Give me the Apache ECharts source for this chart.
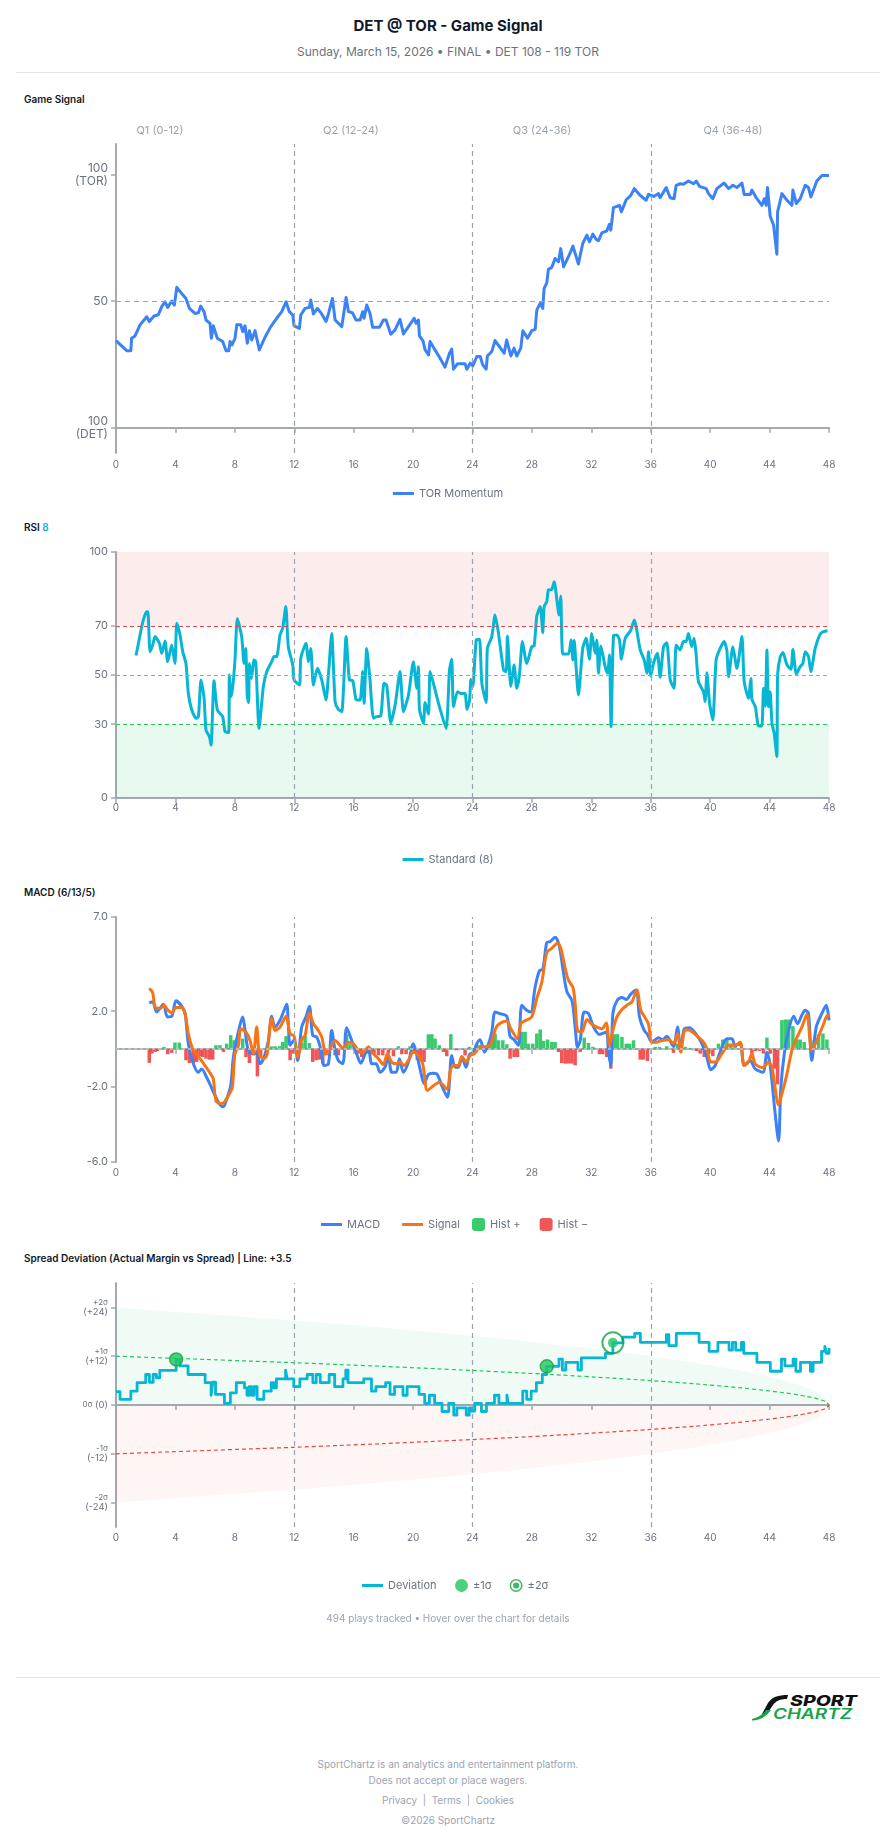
<!DOCTYPE html>
<html>
<head>
<meta charset="utf-8">
<script src="https://cdn.jsdelivr.net/npm/echarts@6/dist/echarts.min.js"></script>
<style>
html,body{margin:0;padding:0;background:#fff;}
body{width:896px;height:1845px;position:relative;overflow:hidden;font-family:Inter,"Noto Sans",sans-serif;}
.abs{position:absolute;}
.title{top:16px;left:0;width:896px;text-align:center;font-size:15px;line-height:20px;font-weight:700;color:#111827;}
.sub{top:44px;left:0;width:896px;text-align:center;font-size:12px;line-height:16px;color:#6b7280;}
.rule{left:16px;width:864px;height:1px;background:#e2e4e8;}
.sec{left:24px;font-size:10px;line-height:14px;font-weight:600;color:#111827;}
.note{left:0;width:896px;text-align:center;font-size:10px;line-height:14px;color:#9ca3af;}
.chart{left:0;width:896px;}
</style>
</head>
<body>
<div class="abs title">DET @ TOR - Game Signal</div>
<div class="abs sub">Sunday, March 15, 2026 • FINAL • DET 108 - 119 TOR</div>
<div class="abs rule" style="top:72px"></div>

<div class="abs sec" style="top:92px">Game Signal</div>
<div id="c1" class="abs chart" style="top:110px;height:400px"></div>

<div class="abs sec" style="top:520px">RSI <span style="color:#06b6d4">8</span></div>
<div id="c2" class="abs chart" style="top:515px;height:360px"></div>

<div class="abs sec" style="top:885px">MACD (6/13/5)</div>
<div id="c3" class="abs chart" style="top:880px;height:360px"></div>

<div class="abs sec" style="top:1251px">Spread Deviation (Actual Margin vs Spread) | Line: +3.5</div>
<div id="c4" class="abs chart" style="top:1245px;height:390px"></div>
<div class="abs note" style="top:1611px">494 plays tracked • Hover over the chart for details</div>

<div class="abs rule" style="top:1677px"></div>
<svg class="abs" style="left:750px;top:1693px" width="116" height="30" viewBox="0 0 116 30">
  <path d="M38 2 L 37 6 C 30 6, 26 8, 23 12 L 17 21 L 12 21 L 18 10 C 22 4, 28 2, 38 2 Z" fill="#111"/>
  <path d="M2 26 C 8 25, 13 21, 16 17 L 21 17 C 16 24, 10 27, 2 27.5 Z" fill="#16a34a"/>
  <text x="40" y="13" font-family="Inter" font-style="italic" font-weight="800" font-size="15" fill="#111" textLength="67" lengthAdjust="spacingAndGlyphs">SPORT</text>
  <text x="23" y="25.5" font-family="Inter" font-style="italic" font-weight="600" font-size="14.5" fill="#16a34a" textLength="79" lengthAdjust="spacingAndGlyphs">CHARTZ</text>
</svg>
<div class="abs note" style="top:1757px">SportChartz is an analytics and entertainment platform.</div>
<div class="abs note" style="top:1773px">Does not accept or place wagers.</div>
<div class="abs note" style="top:1793px">Privacy&nbsp;&nbsp;|&nbsp;&nbsp;Terms&nbsp;&nbsp;|&nbsp;&nbsp;Cookies</div>
<div class="abs note" style="top:1813px">©2026 SportChartz</div>

<script>
// ---------------- DATA ----------------
const quarterLines = [12, 24, 36];
const quarterLabels = ['Q1 (0-12)', 'Q2 (12-24)', 'Q3 (24-36)', 'Q4 (36-48)'];

const signalTickValues = [0, 50, 100];
const signalTickLabels = ['100\n(DET)', '50', '100\n(TOR)'];

const momentum = [[0,34.4],[0.72,30.4],[1.0,30.4],[1.05,35.3],[1.28,36.2],[1.62,40.6],[2.07,43.8],[2.24,41.9],[2.56,44.1],[2.85,44.6],[3.08,47.8],[3.3,49.7],[3.48,47.5],[3.75,50],[3.93,48.4],[4.09,55.4],[4.42,53],[4.71,51],[4.94,47.1],[5.32,45.1],[5.55,45.4],[5.7,48],[5.93,45.8],[6.06,42.5],[6.33,41.2],[6.42,35.3],[6.55,40.2],[6.82,35.3],[7.18,34],[7.41,30.4],[7.59,30.4],[7.68,34],[7.81,32.7],[8.01,35.3],[8.13,40.6],[8.4,40.6],[8.53,37.9],[8.69,40.2],[8.84,33.3],[8.98,38.3],[9.14,34.6],[9.36,38.3],[9.65,30.7],[10.03,35.7],[10.42,39.9],[10.77,42.8],[11.16,45.8],[11.45,49.7],[11.67,45.8],[11.9,44.5],[11.99,40.2],[12.35,39.2],[12.44,44.5],[12.73,47.1],[13.02,47.5],[13.11,50.4],[13.29,44.9],[13.56,47.1],[13.85,44.9],[14.14,41.9],[14.3,44.9],[14.57,51],[14.75,42.5],[15.2,39.9],[15.49,51.4],[15.65,45.8],[15.91,45.4],[16.16,42.5],[16.43,42.5],[16.61,45.8],[16.7,43.2],[16.88,48.4],[17.1,45.1],[17.28,39.6],[17.73,39.6],[18.0,42.5],[18.18,42.5],[18.5,36.9],[18.79,38.6],[19.12,42.8],[19.35,37],[19.69,39.9],[20.07,43.2],[20.21,41.2],[20.36,42.5],[20.43,36.2],[20.66,34.4],[20.81,30.7],[21.04,28.7],[21.14,34],[21.48,30.7],[21.82,27.4],[22.15,23.9],[22.45,29.4],[22.6,31],[22.72,23.1],[22.99,25.2],[23.5,25.2],[23.62,23.1],[23.84,25.5],[24.02,24.4],[24.29,28.1],[24.52,28.1],[24.69,24.8],[24.92,23.1],[25.0,28.3],[25.3,30.1],[25.52,34.4],[25.81,32],[26.13,29.4],[26.3,34.6],[26.58,28.3],[26.8,31.4],[26.98,28.3],[27.25,31.4],[27.39,38.3],[27.7,35.3],[27.99,38.3],[28.22,38.8],[28.33,46.5],[28.56,49.1],[28.73,47.1],[28.82,55],[29.0,57.2],[29.11,62.5],[29.34,63.3],[29.56,66.8],[29.79,65.5],[29.94,70.7],[30.13,63.5],[30.46,67.5],[30.76,71.7],[30.91,68.8],[31.13,64.6],[31.42,72.7],[31.7,76],[31.87,73.4],[32.1,76.4],[32.33,74.3],[32.48,73.8],[32.71,76.9],[33.04,77.7],[33.22,80.3],[33.31,78],[33.49,86.9],[33.9,87.8],[34.02,85.2],[34.35,90],[34.66,91.7],[34.89,94.4],[35.29,91.7],[35.69,89.8],[35.85,92.1],[36.2,91.3],[36.52,92.4],[36.63,90.8],[37.04,94.8],[37.31,90.8],[37.57,90.4],[37.71,95.7],[37.98,96.3],[38.2,96.1],[38.54,97.4],[38.88,96.3],[39.06,97.4],[39.28,95.3],[39.73,94.4],[39.89,92.4],[40.18,90.4],[40.45,94.4],[40.94,96.6],[41.24,94.4],[41.53,95.7],[41.8,94.8],[42.14,96.6],[42.29,92.1],[42.7,92.1],[42.81,93.8],[43.1,90.8],[43.48,87.8],[43.64,90.4],[43.77,87.8],[43.86,94.8],[44.04,83.5],[44.27,79.9],[44.49,68.5],[44.54,85.2],[44.83,92.4],[45.17,89.8],[45.5,87.8],[45.57,93.8],[45.8,88.5],[46.06,90.4],[46.4,95.7],[46.62,94.8],[46.78,91.1],[47.18,97.4],[47.52,99.6],[48,99.6]];

const rsiTickValues = [0, 30, 50, 70, 100];
const rsi = [[1.35,57.9],[1.62,66.3],[1.84,72.4],[2.07,75.7],[2.15,75.7],[2.29,59.5],[2.47,62.2],[2.63,65.6],[2.92,62.9],[3.08,58.8],[3.3,63.8],[3.48,55.4],[3.75,62.2],[3.97,54.7],[4.09,71],[4.31,66.3],[4.49,59.5],[4.71,54.7],[4.87,42.5],[5.1,35.8],[5.39,32.4],[5.55,33.1],[5.72,48],[5.93,40.5],[6.06,27.6],[6.29,24.9],[6.4,21.5],[6.6,47.7],[6.82,35.8],[7.18,33.1],[7.34,27],[7.59,26.6],[7.63,50],[7.74,41.2],[7.86,45.3],[8.01,56.1],[8.17,73],[8.46,65.6],[8.62,54.7],[8.73,60.8],[8.84,41.2],[8.93,38.8],[8.98,54.7],[9.11,48.6],[9.29,56.1],[9.41,55.4],[9.63,28.3],[9.92,45.3],[10.15,51.4],[10.48,55.4],[10.64,57.5],[10.82,57.5],[11.04,66.3],[11.22,69],[11.43,77.8],[11.6,61.5],[11.9,54.1],[11.99,48],[12.35,45.9],[12.44,56.8],[12.79,62.9],[12.95,55.4],[13.11,60.8],[13.29,45.9],[13.56,52.7],[13.85,48],[14.14,39.8],[14.3,50],[14.52,66.9],[14.75,39.2],[14.97,36],[15.2,35.1],[15.49,65.6],[15.71,48],[15.94,47.7],[16.16,40.1],[16.43,39.8],[16.61,51.4],[16.7,38.5],[16.88,60.8],[17.1,48],[17.33,32.4],[17.55,33.1],[17.82,33.3],[18.04,46.6],[18.22,45.9],[18.5,30.6],[18.79,37.8],[19.12,51.4],[19.35,35.1],[19.69,41.9],[20.02,55.4],[20.25,44.6],[20.36,53.4],[20.43,36],[20.7,30.4],[20.81,38.8],[21.04,34.1],[21.14,51.4],[21.37,46.6],[21.71,38.5],[22.22,28.3],[22.45,52],[22.6,56.4],[22.72,37.1],[22.99,43.2],[23.21,42.5],[23.5,42.5],[23.62,36],[23.8,39.6],[23.89,48.2],[24.02,45.3],[24.25,64.2],[24.47,64.5],[24.63,46.6],[24.92,38.8],[25.0,60.8],[25.3,65.6],[25.52,74.4],[25.75,66.9],[26.09,52],[26.27,51.4],[26.35,65.9],[26.58,45.3],[26.8,54.1],[26.98,44.6],[27.16,50],[27.36,63.6],[27.65,54.7],[27.99,61.5],[28.15,61.8],[28.33,74],[28.56,77.8],[28.73,67.2],[28.82,77.8],[29.0,79.8],[29.11,84.6],[29.34,84.8],[29.5,87.9],[29.72,78.5],[29.81,74.4],[29.94,82.1],[30.08,58.5],[30.46,58.5],[30.64,64.2],[30.76,56.1],[30.85,64],[30.98,52.7],[31.13,41.9],[31.42,60.8],[31.65,64.9],[31.87,56.4],[32.03,66.9],[32.26,58.8],[32.37,64.2],[32.48,50.7],[32.64,61.8],[32.93,53.4],[33.09,50.7],[33.22,58.1],[33.33,29],[33.49,65.9],[33.72,66.3],[33.9,64.2],[34.02,56.4],[34.28,64.9],[34.66,68.3],[34.89,72.4],[35.29,60.2],[35.56,56.1],[35.74,50.7],[35.85,59.5],[36.0,49.6],[36.18,54.7],[36.45,58.8],[36.63,49.1],[36.86,61.5],[37.08,63.1],[37.31,48],[37.57,44.6],[37.71,62.2],[37.98,60.2],[38.2,63.6],[38.38,63.6],[38.54,66.9],[38.76,61.5],[38.92,64.9],[39.06,58.1],[39.21,47.3],[39.55,43.2],[39.66,39.2],[39.78,50.9],[39.96,38.5],[40.18,31.7],[40.4,56.1],[40.67,60.8],[40.94,63.6],[41.12,60.2],[41.24,49.3],[41.53,61.5],[41.8,52.7],[42.14,65.6],[42.29,47.3],[42.58,40.5],[42.74,48.6],[42.81,40.1],[43.04,37.1],[43.26,29.3],[43.48,29.3],[43.59,44.6],[43.71,37.4],[43.82,60.2],[43.93,37.1],[44.04,43.2],[44.16,30.4],[44.31,26.3],[44.49,16.8],[44.54,50],[44.72,57.5],[44.9,59.1],[45.17,54.1],[45.44,52.3],[45.57,60.4],[45.8,50.4],[46.06,53.4],[46.24,54.7],[46.4,59.5],[46.62,57.5],[46.78,51.4],[47.07,60.8],[47.41,66.7],[47.63,67.6],[47.9,68]];

const macdTickValues = [-6, -2, 2, 7];
const macd = [[2.24,2.44],[2.47,2.5],[2.74,1.96],[3.19,2.37],[3.46,1.7],[3.75,1.73],[4.04,2.55],[4.42,2.27],[4.65,1.88],[4.87,0.28],[5.21,-0.79],[5.54,-1.24],[5.77,-1.06],[6.1,-1.5],[6.37,-1.95],[6.67,-2.48],[7.0,-2.96],[7.23,-3.07],[7.45,-2.66],[7.72,-1.95],[7.9,-0.44],[8.17,0.67],[8.53,1.7],[8.69,0.98],[8.91,-0.08],[9.25,-0.26],[9.47,-0.22],[9.7,-0.79],[9.97,-0.44],[10.26,0.45],[10.48,1.73],[10.71,1.16],[11.04,1.52],[11.27,1.96],[11.49,2.37],[11.6,1.34],[11.72,0.19],[11.99,0.49],[12.23,-0.61],[12.5,1.16],[12.79,1.7],[13.02,2.27],[13.24,0.72],[13.51,0.63],[13.78,0.01],[14.01,-0.88],[14.3,-0.79],[14.52,0.98],[14.75,-0.08],[14.97,-0.61],[15.26,-0.79],[15.53,1.13],[15.87,0.45],[16.16,-0.17],[16.48,-0.76],[16.77,-0.26],[16.99,0.1],[17.22,-0.79],[17.51,-0.79],[17.78,-1.24],[18.11,-0.97],[18.34,-0.35],[18.56,-1.24],[18.86,-1.24],[19.08,-0.52],[19.35,-1.24],[19.69,-0.7],[20.02,0.28],[20.29,-0.44],[20.52,-1.24],[20.74,-1.83],[21.03,-1.36],[21.32,-1.29],[21.59,-1.32],[21.93,-1.95],[22.31,-2.57],[22.6,-0.35],[22.83,-0.97],[23.05,-0.97],[23.28,-0.44],[23.57,-0.97],[23.79,-0.3],[24.06,-0.17],[24.29,0.28],[24.51,0.49],[24.81,-0.17],[25.08,0.28],[25.3,0.9],[25.52,1.96],[25.81,1.88],[26.31,1.73],[26.53,0.67],[26.8,0.49],[27.09,0.19],[27.32,2.32],[27.65,2.05],[27.92,1.96],[28.22,3.3],[28.51,4.15],[28.73,4.22],[29.0,5.64],[29.24,5.7],[29.56,5.93],[29.84,5.47],[30.13,4.01],[30.36,3.03],[30.7,2.55],[30.91,1.16],[31.07,0.1],[31.25,0.45],[31.52,1.96],[31.81,1.88],[32.15,1.16],[32.55,0.77],[33.0,0.9],[33.15,-0.17],[33.31,-0.88],[33.45,1.88],[33.72,2.55],[34.06,2.73],[34.35,2.62],[34.66,2.91],[35.02,3.12],[35.24,1.7],[35.56,0.98],[35.78,0.77],[36.07,0.36],[36.3,0.49],[36.52,0.59],[36.81,0.49],[37.08,0.67],[37.53,0.13],[37.8,1.16],[38.02,-0.12],[38.25,1.07],[38.6,1.13],[39.06,0.77],[39.44,0.28],[39.78,-0.44],[40.04,-1.11],[40.34,-0.88],[40.67,-0.17],[41.12,0.54],[41.46,0.54],[41.68,0.19],[42.02,0.28],[42.29,-0.88],[42.69,-0.61],[43.03,-1.06],[43.55,-1.24],[43.82,-0.17],[44.04,-0.88],[44.38,-3.47],[44.6,-4.89],[44.76,-2.04],[44.99,-0.26],[45.28,0.98],[45.62,1.73],[45.88,1.34],[46.17,1.79],[46.4,2.05],[46.62,1.88],[46.84,-0.61],[47.14,1.16],[47.52,1.88],[47.81,2.32],[48,1.52]];

const macdSignal = [[2.24,3.21],[2.47,2.98],[2.63,2.23],[2.96,2.14],[3.23,2.32],[3.46,2.09],[3.75,1.91],[4.04,2.2],[4.42,2.2],[4.65,1.88],[4.87,0.81],[5.16,0.01],[5.54,-0.4],[5.99,-0.88],[6.37,-1.32],[6.55,-1.59],[6.73,-2.75],[7.0,-2.89],[7.27,-2.84],[7.63,-2.39],[7.83,-2.04],[8.01,-0.26],[8.24,0.19],[8.4,1.07],[8.75,0.9],[9.02,0.45],[9.25,-0.26],[9.47,1.16],[9.65,-0.26],[9.92,-0.52],[10.15,-0.35],[10.48,1.61],[10.71,0.98],[11.04,1.16],[11.45,1.73],[11.72,0.81],[11.99,0.67],[12.23,-0.44],[12.5,0.49],[12.73,0.72],[13.02,1.91],[13.29,1.34],[13.62,0.98],[13.85,0.63],[14.14,-0.26],[14.41,0.01],[14.75,0.45],[15.08,0.19],[15.31,0.01],[15.65,0.36],[15.98,0.28],[16.32,-0.08],[16.61,-0.17],[16.99,0.1],[17.33,-0.26],[17.67,-0.52],[18.0,-0.83],[18.27,-0.26],[18.56,-0.7],[18.9,-0.79],[19.12,-0.7],[19.39,-0.88],[19.75,-0.52],[20.02,-0.12],[20.36,-0.35],[20.65,-0.79],[20.97,-2.21],[21.37,-1.95],[21.77,-1.77],[22.27,-2.12],[22.54,-1.06],[22.76,-0.88],[23.05,-0.88],[23.28,-0.4],[23.57,-0.7],[23.84,-0.35],[24.11,-0.26],[24.51,0.1],[24.96,0.13],[25.24,0.28],[25.6,1.16],[25.91,1.38],[26.31,1.48],[26.58,1.07],[27.03,0.54],[27.25,1.34],[27.61,1.52],[27.99,1.7],[28.33,2.68],[28.67,3.56],[29.0,5.11],[29.34,5.34],[29.72,5.61],[29.94,5.34],[30.24,4.28],[30.46,3.65],[30.76,3.26],[30.91,2.41],[31.07,0.98],[31.36,0.9],[31.7,1.56],[32.03,1.31],[32.37,1.16],[32.71,1.07],[33.0,1.38],[33.22,0.19],[33.45,0.98],[33.72,1.7],[34.06,2.09],[34.39,2.32],[34.73,2.5],[35.06,3.12],[35.33,2.05],[35.62,1.66],[35.85,1.31],[36.07,0.36],[36.41,0.36],[36.75,0.45],[37.2,0.49],[37.53,0.28],[37.8,0.81],[38.02,-0.17],[38.32,1.02],[38.65,0.98],[39.06,0.72],[39.55,0.36],[39.78,0.01],[40.04,-0.7],[40.34,-0.7],[40.79,-0.26],[41.24,0.19],[41.68,0.19],[42.02,0.36],[42.29,-0.88],[42.58,-0.7],[42.81,-0.26],[43.03,-0.79],[43.55,-1.0],[43.93,-0.7],[44.16,-0.97],[44.38,-2.12],[44.6,-2.96],[44.83,-2.39],[45.17,-1.32],[45.5,-0.08],[45.8,0.54],[46.17,1.16],[46.51,1.84],[46.84,-0.08],[47.18,0.45],[47.63,1.31],[47.9,1.79],[48,1.7]];

const macdHist = [[2.24,-0.74],[2.42,-0.25],[2.63,-0.16],[2.78,-0.11],[3.23,0.11],[3.48,-0.28],[3.75,-0.21],[3.97,0.34],[4.26,0.34],[4.71,-0.6],[4.94,-0.75],[5.21,-0.75],[5.43,-0.69],[5.66,-0.39],[5.84,-0.43],[6.06,-0.52],[6.29,-0.57],[6.51,-0.57],[6.73,0.2],[7.0,0.2],[7.23,-0.16],[7.45,0.28],[7.72,0.73],[7.95,0.46],[8.17,0.55],[8.53,0.55],[8.75,-0.43],[8.98,-0.75],[9.25,-0.34],[9.52,-1.46],[9.74,-0.39],[10.15,-0.25],[10.48,0.14],[10.71,0.14],[11.0,0.14],[11.22,0.37],[11.45,0.68],[11.72,-0.6],[11.94,-0.25],[12.5,0.32],[12.73,0.73],[13.02,0.32],[13.24,-0.69],[13.47,-0.6],[13.69,-0.57],[13.92,-0.78],[14.14,-0.34],[14.75,-0.34],[14.97,-0.34],[15.53,0.78],[15.76,0.25],[16.03,0.2],[16.32,-0.25],[16.54,-0.43],[16.88,-0.25],[17.1,-0.28],[17.37,-0.28],[17.67,-0.34],[17.96,-0.34],[18.34,-0.25],[18.68,-0.39],[19.01,0.14],[19.24,-0.28],[19.53,-0.28],[19.8,0.14],[20.02,-0.25],[20.29,-0.6],[20.52,-0.6],[20.74,-0.69],[21.03,0.78],[21.26,0.78],[21.48,0.55],[21.77,0.2],[22.04,-0.16],[22.27,-0.39],[22.54,0.78],[22.83,-0.07],[23.05,-0.07],[23.5,-0.34],[23.79,0.11],[24.06,0.04],[24.29,0.25],[24.51,0.2],[24.85,0.11],[25.14,0.28],[25.37,0.64],[25.52,0.82],[25.75,0.46],[26.04,0.46],[26.31,0.25],[26.53,-0.52],[26.8,-0.43],[27.03,-0.43],[27.32,0.91],[27.54,0.91],[27.76,0.28],[28.06,0.28],[28.33,0.82],[28.56,1.03],[28.78,0.43],[29.05,0.5],[29.34,0.37],[29.56,0.37],[29.79,-0.16],[30.01,-0.75],[30.24,-0.78],[30.46,-0.78],[30.69,-0.78],[30.91,-0.87],[31.25,-0.16],[31.52,0.6],[31.81,0.32],[32.1,0.11],[32.55,-0.28],[32.77,-0.28],[33.04,-0.43],[33.31,-1.05],[33.54,0.78],[33.76,0.78],[34.06,0.64],[34.35,0.28],[34.57,0.28],[34.84,0.46],[35.29,-0.57],[35.51,-0.57],[35.78,-0.64],[36.3,0.11],[36.59,0.11],[37.08,0.14],[37.53,-0.21],[37.8,0.28],[38.32,0.11],[38.6,0.05],[38.88,-0.07],[39.1,-0.11],[39.33,-0.25],[39.6,-0.43],[39.89,-0.25],[40.18,-0.39],[40.56,0.28],[40.85,0.5],[41.12,0.5],[41.39,0.28],[41.68,0.14],[42.81,-0.25],[43.03,-0.11],[43.32,-0.11],[43.59,-0.25],[43.82,0.6],[44.04,-0.25],[44.33,-1.05],[44.54,-1.88],[44.83,1.53],[45.06,1.56],[45.28,1.56],[45.57,1.21],[45.84,0.5],[46.06,0.5],[46.33,0.37],[47.0,0.46],[47.3,0.78],[47.59,0.82],[47.86,0.5]];

const spreadTickValues = [-24, -12, 0, 12, 24];
const spreadSigmaLabels = ['-2σ', '-1σ', '0σ', '+1σ', '+2σ'];
const spreadPointLabels = ['(-24)', '(-12)', '(0)', '(+12)', '(+24)'];
// deviation: [minute, level from that minute on]
const deviation = [[0,3.3],[0.27,1.4],[1.0,3.4],[1.42,5.5],[2.0,7.5],[2.25,5.6],[2.5,7.5],[2.72,6.7],[2.95,8.5],[4.05,11.2],[4.3,9.6],[4.85,7.5],[6.0,5.5],[6.4,2.4],[6.52,5.6],[6.7,2.6],[7.3,0.4],[7.7,3.0],[8.1,5.5],[8.65,4.2],[8.82,2.4],[8.96,4.5],[9.12,2.4],[9.3,4.5],[9.5,1.4],[9.95,3.4],[10.45,5.5],[10.62,4.2],[10.8,6.4],[11.42,8.6],[11.52,6.4],[11.97,4.5],[12.38,6.4],[12.87,7.5],[13.25,5.5],[13.48,7.5],[13.75,5.5],[14.35,7.5],[14.72,4.5],[15.28,6.4],[15.47,8.6],[15.62,5.5],[16.68,6.4],[17.2,3.4],[17.5,4.5],[18.15,5.5],[18.45,2.6],[18.75,4.5],[19.32,2.4],[19.6,4.5],[20.4,2.6],[20.78,0.4],[21.1,2.4],[21.45,0.4],[21.95,-1.6],[22.4,0.4],[22.74,-2.5],[22.95,-0.7],[23.58,-2.5],[23.78,-0.7],[23.92,-1.5],[24.15,0.4],[24.6,-1.6],[24.94,0.4],[25.48,2.4],[25.78,0.4],[26.32,2.4],[26.4,0.4],[27.38,3.4],[27.65,1.4],[27.95,3.4],[28.3,5.5],[28.7,7.5],[29.0,9.5],[29.82,11.3],[30.05,8.6],[30.28,10.5],[31.1,8.6],[31.33,11.6],[32.95,12.7],[33.45,15.3],[34.12,16.7],[34.92,17.6],[35.3,15.4],[37.05,17.3],[37.22,14.6],[37.72,17.6],[39.25,15.4],[39.93,13.2],[40.52,15.4],[41.27,13.5],[41.5,15.4],[41.72,13.5],[42.1,15.4],[42.26,12.7],[43.15,10.5],[44.05,8.3],[44.8,11.3],[45.03,9.6],[45.58,11.3],[45.77,8.3],[46.08,10.5],[46.75,8.3],[46.93,10.5],[47.5,13.2],[47.72,14.4],[47.83,12.7],[48,14.0]];
const bandMinutes = [0, 3, 6, 9, 12, 15, 18, 21, 24, 27, 30, 33, 36, 39, 42, 44, 45, 46, 46.5, 47, 47.5, 47.8, 48];
const oneSigma = [12.0, 11.6, 11.2, 10.8, 10.4, 9.95, 9.5, 9.0, 8.5, 7.95, 7.35, 6.7, 6.0, 5.2, 4.25, 3.45, 3.0, 2.45, 2.1, 1.75, 1.2, 0.8, 0];
const twoSigma = [24.0, 23.2, 22.4, 21.6, 20.8, 19.9, 19.0, 18.0, 17.0, 15.9, 14.7, 13.4, 12.0, 10.4, 8.5, 6.9, 6.0, 4.9, 4.2, 3.5, 2.4, 1.6, 0];
const oneSigmaHits = [[4.05, 11.2], [29.0, 9.5]];
const twoSigmaHits = [[33.45, 15.3]];

// ---------------- STYLE ----------------
const FONT = 'Inter, "Noto Sans", sans-serif';
const AX = '#a3a8b1';
const LBL = '#6b7280';
const GRID_DASH = '#9ca3af';
const BLUE = '#3b82f6', ORANGE = '#f97316', CYAN = '#06b6d4', GREEN = '#22c55e', RED = '#ef4444';

function xAx(margin) {
  return {
    type: 'value', min: 0, max: 48, interval: 4,
    axisLine: { show: true, lineStyle: { color: AX, width: 2 } },
    axisTick: { show: true, length: 5, lineStyle: { color: AX, width: 1.5 } },
    axisLabel: { color: LBL, fontSize: 10, margin: margin, fontFamily: FONT },
    splitLine: { show: false }
  };
}
function yAx(min, max, ticks, formatter, fs, lh, rich) {
  return {
    type: 'value', min: min, max: max,
    axisLine: { show: true, lineStyle: { color: AX, width: 2 } },
    axisTick: { show: true, length: 5, lineStyle: { color: AX, width: 1.5 }, customValues: ticks },
    axisLabel: { customValues: ticks, formatter: formatter, color: LBL, fontSize: fs, lineHeight: lh, margin: 8, fontFamily: FONT, rich: rich },
    splitLine: { show: false }
  };
}
const dashGray = { color: GRID_DASH, type: [5, 4], width: 1.2 };
function quarterMarks() { return quarterLines.map(q => ({ xAxis: q, lineStyle: dashGray })); }
function markLine(extra) {
  return { silent: true, symbol: ['none', 'none'], label: { show: false }, emphasis: { disabled: true }, lineStyle: dashGray, data: quarterMarks().concat(extra || []) };
}
const legendText = { color: LBL, fontSize: 11, fontFamily: FONT };
function lineLegend(names, top, left) {
  return { data: names.map(n => ({ name: n, icon: 'rect' })), top: top, left: left, itemWidth: 21, itemHeight: 3, itemGap: 22, textStyle: legendText };
}

// ---------------- CHART 1 ----------------
const c1 = echarts.init(document.getElementById('c1'));
const qx = [160, 351, 542, 733];
c1.setOption({
  animation: false, textStyle: { fontFamily: FONT },
  grid: { left: 116, right: 67, top: 34, bottom: 57 },
  xAxis: xAx(7),
  yAxis: yAx(-10, 112, signalTickValues, v => signalTickLabels[signalTickValues.indexOf(v)], 12, 13),
  legend: lineLegend(['TOR Momentum'], 373, 'center'),
  graphic: quarterLabels.map((t, i) => ({
    type: 'text', x: qx[i], y: 21,
    style: { text: t, fill: '#9ca3af', font: '11px ' + FONT, align: 'center', verticalAlign: 'middle', textAlign: 'center', textVerticalAlign: 'middle' }
  })),
  series: [{
    name: 'TOR Momentum', type: 'line', data: momentum, symbol: 'none',
    lineStyle: { color: BLUE, width: 3, join: 'round' }, itemStyle: { color: BLUE },
    markLine: markLine([{ yAxis: 50, lineStyle: dashGray }])
  }]
});

// ---------------- CHART 2 (RSI) ----------------
const c2 = echarts.init(document.getElementById('c2'));
c2.setOption({
  animation: false, textStyle: { fontFamily: FONT },
  grid: { left: 116, right: 67, top: 37, bottom: 77 },
  xAxis: xAx(5),
  yAxis: yAx(0, 100, rsiTickValues, v => String(v), 11, 12),
  legend: lineLegend(['Standard (8)'], 334, 'center'),
  series: [{
    name: 'Standard (8)', type: 'line', data: rsi, symbol: 'none', smooth: 0.2,
    lineStyle: { color: CYAN, width: 3, join: 'round' }, itemStyle: { color: CYAN },
    markArea: {
      silent: true,
      data: [
        [{ yAxis: 70, itemStyle: { color: 'rgba(239,68,68,0.10)' } }, { yAxis: 100 }],
        [{ yAxis: 0, itemStyle: { color: 'rgba(34,197,94,0.10)' } }, { yAxis: 30 }]
      ]
    },
    markLine: markLine([
      { yAxis: 70, lineStyle: { color: RED, type: [4, 3], width: 1.2 } },
      { yAxis: 50, lineStyle: { color: GRID_DASH, type: [4, 3], width: 1.2 } },
      { yAxis: 30, lineStyle: { color: GREEN, type: [4, 3], width: 1.2 } }
    ])
  }]
});

// ---------------- CHART 3 (MACD) ----------------
const c3 = echarts.init(document.getElementById('c3'));
c3.setOption({
  animation: false, textStyle: { fontFamily: FONT },
  grid: { left: 116, right: 67, top: 37, bottom: 78 },
  xAxis: xAx(6),
  yAxis: yAx(-6, 7, macdTickValues, v => v.toFixed(1), 11, 12),
  legend: [
    lineLegend(['MACD', 'Signal'], 334, 316),
    { data: [{ name: 'Hist +', icon: 'roundRect' }, { name: 'Hist −', icon: 'roundRect' }], top: 333, left: 467, itemWidth: 13, itemHeight: 13, itemGap: 19, textStyle: legendText }
  ],
  series: [
    {
      name: 'Hist +', type: 'bar', barWidth: 3.5, barGap: '-100%',
      data: macdHist.filter(d => d[1] >= 0), itemStyle: { color: GREEN, opacity: 0.9 }
    },
    {
      name: 'Hist −', type: 'bar', barWidth: 3.5, barGap: '-100%',
      data: macdHist.filter(d => d[1] < 0), itemStyle: { color: RED, opacity: 0.9 }
    },
    {
      name: 'MACD', type: 'line', data: macd, symbol: 'none', smooth: 0.3, z: 3,
      lineStyle: { color: BLUE, width: 3, join: 'round' }, itemStyle: { color: BLUE },
      markLine: markLine([{ yAxis: 0, lineStyle: { color: '#c4c8cf', type: [3, 3], width: 1.5 } }])
    },
    {
      name: 'Signal', type: 'line', data: macdSignal, symbol: 'none', smooth: 0.3, z: 4,
      lineStyle: { color: ORANGE, width: 3, join: 'round' }, itemStyle: { color: ORANGE }
    }
  ]
});

// ---------------- CHART 4 (Spread deviation) ----------------
const c4 = echarts.init(document.getElementById('c4'));
const pairs = (arr, sign) => bandMinutes.map((t, i) => [t, sign * arr[i]]);
const ringIcon = 'path://M10,0 A10,10 0 1,1 10,20 A10,10 0 1,1 10,0 Z M10,2.4 A7.6,7.6 0 1,0 10,17.6 A7.6,7.6 0 1,0 10,2.4 Z M10,5.2 A4.8,4.8 0 1,1 10,14.8 A4.8,4.8 0 1,1 10,5.2 Z';
const spreadLabel = v => {
  const i = spreadTickValues.indexOf(v);
  if (v === 0) return '{s|' + spreadSigmaLabels[i] + '} {n|' + spreadPointLabels[i] + '}';
  return '{s|' + spreadSigmaLabels[i] + '}\n{n|' + spreadPointLabels[i] + '}';
};
c4.setOption({
  animation: false, textStyle: { fontFamily: FONT },
  grid: { left: 116, right: 67, top: 38, bottom: 108 },
  xAxis: xAx(6),
  yAxis: yAx(-30, 30, spreadTickValues, spreadLabel, 9, 10, {
    s: { fontSize: 8, lineHeight: 9, color: LBL, fontFamily: FONT, align: 'right' },
    n: { fontSize: 9.5, lineHeight: 10, color: LBL, fontFamily: FONT, align: 'right' }
  }),
  legend: [
    lineLegend(['Deviation'], 330, 357),
    { data: [{ name: '±1σ', icon: 'circle', itemStyle: { color: GREEN, borderWidth: 0 } }, { name: '±2σ', icon: ringIcon, itemStyle: { color: '#16a34a', borderWidth: 0 } }], top: 329, left: 450, itemWidth: 13, itemHeight: 13, itemGap: 18, textStyle: legendText }
  ],
  series: [
    { name: 'band2u', type: 'line', data: pairs(twoSigma, 1), symbol: 'none', smooth: 0.2, lineStyle: { width: 0 }, areaStyle: { color: 'rgba(34,197,94,0.09)', origin: 0 }, silent: true, z: 1 },
    { name: 'band2l', type: 'line', data: pairs(twoSigma, -1), symbol: 'none', smooth: 0.2, lineStyle: { width: 0 }, areaStyle: { color: 'rgba(239,68,68,0.08)', origin: 0 }, silent: true, z: 1 },
    { name: 'band1u', type: 'line', data: pairs(oneSigma, 1), symbol: 'none', smooth: 0.2, lineStyle: { color: GREEN, width: 1.2, type: [4, 3] }, silent: true, z: 2 },
    { name: 'band1l', type: 'line', data: pairs(oneSigma, -1), symbol: 'none', smooth: 0.2, lineStyle: { color: RED, width: 1.2, type: [4, 3] }, silent: true, z: 2,
      markLine: markLine([{ yAxis: 0, lineStyle: { color: AX, type: [3, 3], width: 2 } }]) },
    { name: 'Deviation', type: 'line', step: 'end', data: deviation, symbol: 'none', z: 5,
      lineStyle: { color: CYAN, width: 2.8, join: 'round' }, itemStyle: { color: CYAN } },
    { name: '±1σ', type: 'scatter', data: oneSigmaHits, symbol: 'circle', symbolSize: 13, z: 6,
      itemStyle: { color: GREEN, borderColor: '#16a34a', borderWidth: 1.5 } },
    { name: '±2σ ring', type: 'scatter', data: twoSigmaHits, symbol: 'circle', symbolSize: 21, z: 6,
      itemStyle: { color: 'rgba(0,0,0,0)', borderColor: '#16a34a', borderWidth: 2 } },
    { name: '±2σ', type: 'scatter', data: twoSigmaHits, symbol: 'circle', symbolSize: 10, z: 7,
      itemStyle: { color: GREEN } }
  ]
});
</script>
</body>
</html>
